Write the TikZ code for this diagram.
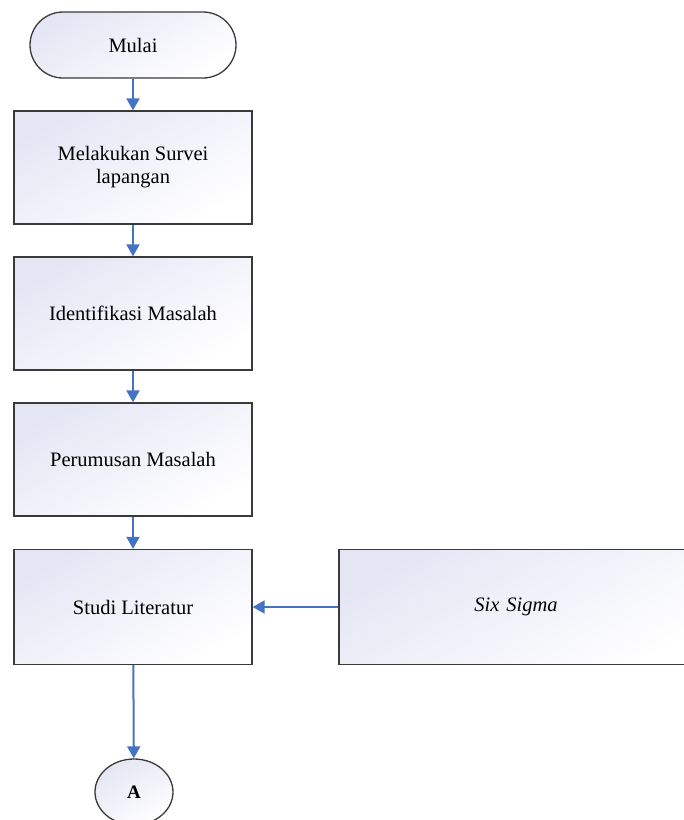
\documentclass[tikz,border=0pt]{standalone}
\usepackage{fontspec}
\setmainfont{Liberation Serif}
\usetikzlibrary{arrows.meta,shapes.geometric}
\definecolor{lav}{HTML}{E4E6F4}
\definecolor{arrblue}{HTML}{4472C4}
\definecolor{edge}{HTML}{3A3A3A}
\tikzset{
  shade/.style={top color=lav, bottom color=white, shading angle=30},
  procbox/.style={rectangle, draw=edge, line width=1.3pt, shade, minimum width=238pt, minimum height=113pt, align=center, font=\fontsize{20.5}{23}\selectfont},
  term/.style={rectangle, rounded corners=33pt, draw=edge, line width=1.3pt, shade, minimum width=206pt, minimum height=66pt, font=\fontsize{20.5}{23}\selectfont},
  conn/.style={ellipse, draw=edge, line width=1.3pt, shade, minimum width=78pt, minimum height=66pt, inner sep=0pt, font=\fontsize{19}{21}\selectfont\bfseries},
  arr/.style={draw=arrblue, line width=2pt, -{Triangle[width=13pt,length=12pt]}, arrblue}
}
\begin{document}
\begin{tikzpicture}[x=1pt,y=-1pt]
\useasboundingbox (0,0) rectangle (684,820);
\clip (0,0) rectangle (684,820);
\node[term] (start) at (133,45) {Mulai};
\node[procbox] (survei) at (133,167.5) {Melakukan Survei\\lapangan};
\node[procbox] (ident) at (133,313.5) {Identifikasi Masalah};
\node[procbox] (rumus) at (133,459.5) {Perumusan Masalah};
\node[procbox, minimum height=115pt] (studi) at (133,607) {Studi Literatur};
\node[procbox, minimum width=380pt, minimum height=115pt, text width=360pt] (six) at (529,607) {\hspace*{-26pt}\textit{Six Sigma}};
\node[conn] (a) at (134,792) {A};
\draw[arr] (start) -- (survei);
\draw[arr] (survei) -- (ident);
\draw[arr] (ident) -- (rumus);
\draw[arr] (rumus) -- (studi);
\draw[arr] (six) -- (studi);
\draw[arr] (studi) -- (a);
\end{tikzpicture}
\end{document}
